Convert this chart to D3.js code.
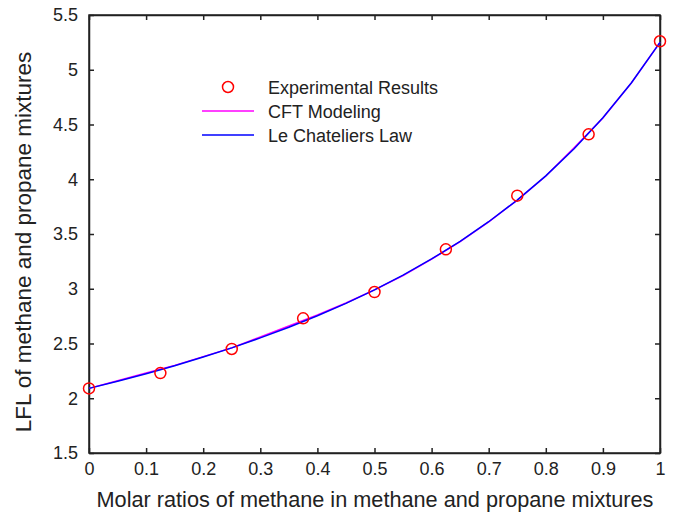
<!DOCTYPE html>
<html>
<head>
<meta charset="utf-8">
<script src="https://cdn.jsdelivr.net/npm/d3@7"></script>
<style>
  body { margin: 0; background: #fff; }
  text { font-family: "Liberation Sans", Arial, sans-serif; fill: #222; }
</style>
</head>
<body>
<div id="chart"></div>
<script>
// experimental points (molar ratio of methane, LFL %)
const expX = [0, 0.125, 0.25, 0.375, 0.5, 0.625, 0.75, 0.875, 1];
const expY = [2.09, 2.23, 2.45, 2.73, 2.97, 3.36, 3.85, 4.41, 5.26];

// curves
const curveX = [0, 0.05, 0.1, 0.15, 0.2, 0.25, 0.3, 0.35, 0.4, 0.45, 0.5, 0.55, 0.6, 0.65, 0.7, 0.75, 0.8, 0.85, 0.9, 0.95, 1];
const cftY = [2.09, 2.16, 2.23, 2.30, 2.38, 2.46, 2.56, 2.66, 2.76, 2.87, 2.99, 3.12, 3.27, 3.43, 3.61, 3.81, 4.03, 4.29, 4.56, 4.88, 5.25];
const lcY = [2.09, 2.155, 2.224, 2.297, 2.376, 2.46, 2.551, 2.648, 2.753, 2.866, 2.99, 3.124, 3.272, 3.433, 3.612, 3.81, 4.031, 4.28, 4.561, 4.881, 5.25];

const xTicks = [0, 0.1, 0.2, 0.3, 0.4, 0.5, 0.6, 0.7, 0.8, 0.9, 1];
const yTicks = [1.5, 2, 2.5, 3, 3.5, 4, 4.5, 5, 5.5];

const W = 675, H = 513;
const margin = { top: 15, right: 15, bottom: 60, left: 89 };
const width = W - margin.left - margin.right;
const height = H - margin.top - margin.bottom;

const svg = d3.select('#chart')
  .append('svg')
  .attr('width', W)
  .attr('height', H);

const g = svg.append('g')
  .attr('transform', `translate(${margin.left},${margin.top})`);

const x = d3.scaleLinear().domain([0, 1]).range([0, width]);
const y = d3.scaleLinear().domain([1.5, 5.5]).range([height, 0]);

// axes, ticks pointing inward, mirrored on top and right
const tickLen = 5;
g.append('g')
  .attr('transform', `translate(0,${height})`)
  .call(d3.axisBottom(x).tickValues(xTicks).tickSizeInner(-tickLen).tickSizeOuter(0).tickPadding(9).tickFormat(d3.format('')))
  .call(a => a.selectAll('text').attr('font-size', 18).attr('fill', '#222'));
g.append('g')
  .call(d3.axisLeft(y).tickValues(yTicks).tickSizeInner(-tickLen).tickSizeOuter(0).tickPadding(11).tickFormat(d3.format('')))
  .call(a => a.selectAll('text').attr('font-size', 18).attr('fill', '#222'));
g.append('g')
  .call(d3.axisTop(x).tickValues(xTicks).tickSizeInner(-tickLen).tickSizeOuter(0).tickFormat(''));
g.append('g')
  .attr('transform', `translate(${width},0)`)
  .call(d3.axisRight(y).tickValues(yTicks).tickSizeInner(-tickLen).tickSizeOuter(0).tickFormat(''));
g.selectAll('.domain, .tick line').attr('stroke', '#222').attr('stroke-width', 1.5);

g.append('rect')
  .attr('width', width).attr('height', height)
  .attr('fill', 'none').attr('stroke', '#222').attr('stroke-width', 1.5);

// curves
const line = d3.line()
  .x((d, i) => x(curveX[i]))
  .y(d => y(d));

g.append('path')
  .datum(cftY)
  .attr('fill', 'none')
  .attr('stroke', '#ff00ff')
  .attr('stroke-width', 1.5)
  .attr('d', line);

g.append('path')
  .datum(lcY)
  .attr('fill', 'none')
  .attr('stroke', '#0000ff')
  .attr('stroke-width', 1.5)
  .attr('d', line);

// experimental circles
g.selectAll('circle.exp')
  .data(expY)
  .enter()
  .append('circle')
  .attr('class', 'exp')
  .attr('cx', (d, i) => x(expX[i]))
  .attr('cy', d => y(d))
  .attr('r', 5.5)
  .attr('fill', 'none')
  .attr('stroke', '#ff0000')
  .attr('stroke-width', 1.5);

// legend
const legend = svg.append('g');
const items = [
  { label: 'Experimental Results', type: 'circle', color: '#ff0000' },
  { label: 'CFT Modeling', type: 'line', color: '#ff00ff' },
  { label: 'Le Chateliers Law', type: 'line', color: '#0000ff' }
];
items.forEach((it, i) => {
  const cy = 87 + i * 24;
  if (it.type === 'circle') {
    legend.append('circle')
      .attr('cx', 228).attr('cy', cy).attr('r', 5.5)
      .attr('fill', 'none').attr('stroke', it.color).attr('stroke-width', 1.5);
  } else {
    legend.append('line')
      .attr('x1', 202).attr('x2', 254).attr('y1', cy).attr('y2', cy)
      .attr('stroke', it.color).attr('stroke-width', 1.5);
  }
  legend.append('text')
    .attr('x', 268).attr('y', cy + 6.5)
    .attr('font-size', 18)
    .text(it.label);
});

// axis titles
svg.append('text')
  .attr('x', 375)
  .attr('y', 507)
  .attr('text-anchor', 'middle')
  .attr('font-size', 21.7)
  .text('Molar ratios of methane in methane and propane mixtures');

svg.append('text')
  .attr('transform', `translate(31,242) rotate(-90)`)
  .attr('text-anchor', 'middle')
  .attr('font-size', 22.5)
  .text('LFL of methane and propane mixtures');
</script>
</body>
</html>
